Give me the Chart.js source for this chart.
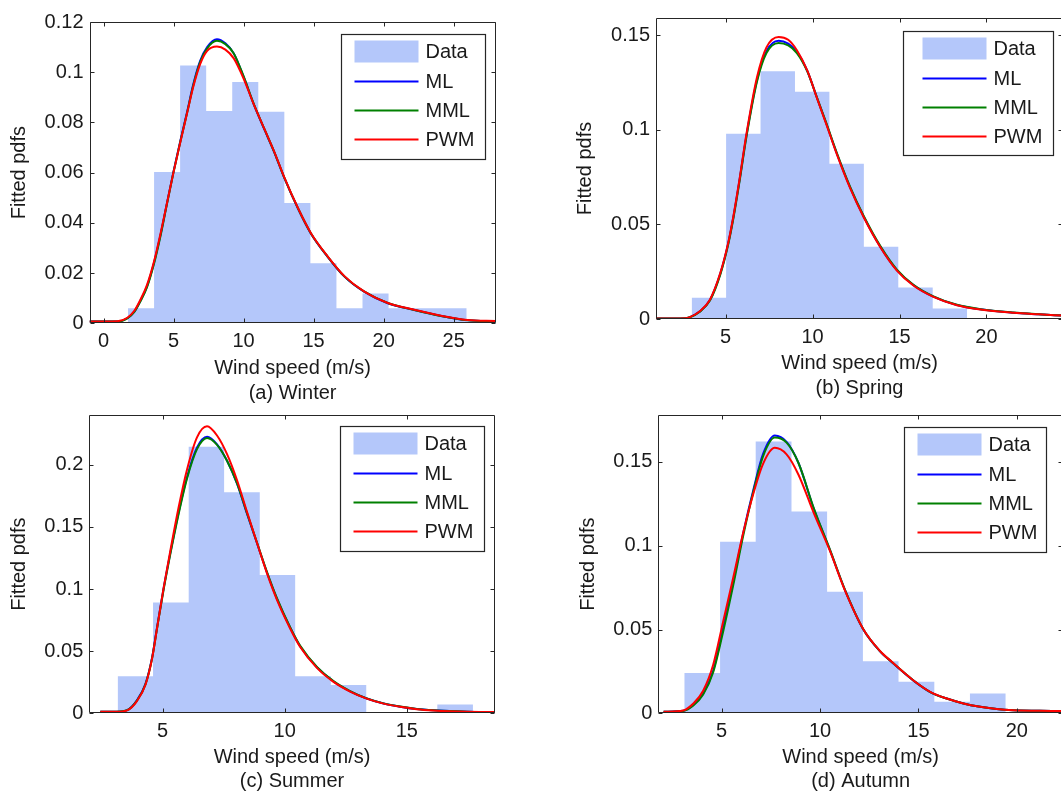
<!DOCTYPE html>
<html>
<head>
<meta charset="utf-8">
<title>Fitted pdfs of wind speed by season</title>
<script src="https://cdn.jsdelivr.net/npm/chart.js@4.4.1/dist/chart.umd.min.js"></script>
<style>
  html, body { margin: 0; padding: 0; background: #fff; overflow: hidden; }
  body { width: 1061px; height: 794px; position: relative; }
  canvas { position: absolute; }
</style>
</head>
<body>
<canvas id="winter" width="530" height="410" style="left:0px;top:0px"></canvas>
<canvas id="spring" width="540" height="410" style="left:530px;top:0px"></canvas>
<canvas id="summer" width="530" height="400" style="left:0px;top:397px"></canvas>
<canvas id="autumn" width="540" height="400" style="left:530px;top:397px"></canvas>
<script>
var seriesNames = ['Data', 'ML', 'MML', 'PWM'];
var xTitle = 'Wind speed (m/s)';
var yTitle = 'Fitted pdfs';

// (a) Winter
var winterEdges = [1.75, 3.61, 5.47, 7.33, 9.19, 11.05, 12.91, 14.77, 16.63, 18.49, 20.35, 22.21, 24.07, 25.93];
var winterHeights = [0.006, 0.0603, 0.1027, 0.0846, 0.0961, 0.0843, 0.0479, 0.0239, 0.006, 0.0119, 0.006, 0.006, 0.006];
var winterX = [-1, 0, 1, 1.7, 2.2, 2.6, 3.1, 3.6, 4.1, 4.5, 5.0, 5.5, 6.0, 6.4, 6.9, 7.4, 8.1, 8.7, 9.3, 10.0, 10.7, 11.5, 12.2, 12.9, 13.9, 14.8, 16.0, 17.2, 18.6, 20.3, 22.2, 24.1, 26.0, 28];
var winterML = [0.0007, 0.0007, 0.0007, 0.002, 0.0046, 0.0086, 0.0146, 0.024, 0.036, 0.047, 0.0605, 0.073, 0.085, 0.095, 0.1045, 0.110, 0.1131, 0.1115, 0.1075, 0.0982, 0.0876, 0.077, 0.068, 0.058, 0.0455, 0.0358, 0.0265, 0.0186, 0.0126, 0.008, 0.0053, 0.0029, 0.0012, 0.0008];
var winterMML = [0.0007, 0.0007, 0.0007, 0.002, 0.0045, 0.0084, 0.0143, 0.0236, 0.0356, 0.0467, 0.0602, 0.0727, 0.0846, 0.0945, 0.104, 0.1095, 0.1125, 0.1112, 0.1075, 0.0984, 0.0878, 0.0772, 0.0681, 0.0581, 0.0456, 0.0359, 0.0266, 0.0187, 0.0127, 0.0081, 0.0053, 0.0029, 0.0012, 0.0008];
var winterPWM = [0.0007, 0.0007, 0.0008, 0.0022, 0.005, 0.009, 0.0152, 0.0245, 0.0365, 0.047, 0.0602, 0.0725, 0.0845, 0.094, 0.1032, 0.1085, 0.1102, 0.109, 0.1055, 0.0975, 0.0876, 0.0772, 0.0682, 0.0582, 0.0457, 0.036, 0.0267, 0.0188, 0.0127, 0.0081, 0.0054, 0.003, 0.0013, 0.0009];

// (b) Spring
var springEdges = [3.05, 5.03, 7.01, 8.99, 10.97, 12.95, 14.93, 16.91, 18.89];
var springHeights = [0.0112, 0.0978, 0.1309, 0.1201, 0.082, 0.0381, 0.0167, 0.0056];
var springX = [1, 2, 2.7, 2.95, 3.5, 4.1, 4.7, 5.15, 5.45, 5.8, 6.2, 6.8, 7.35, 8.05, 8.6, 9.1, 9.7, 10.25, 10.8, 11.4, 12.15, 12.95, 13.9, 14.85, 15.8, 16.95, 18.3, 19.65, 21.55, 23, 24.4];
var springML = [0.0003, 0.0003, 0.0004, 0.001, 0.0039, 0.01, 0.0241, 0.0399, 0.0539, 0.0732, 0.097, 0.126, 0.1415, 0.147, 0.1455, 0.1412, 0.131, 0.117, 0.103, 0.0873, 0.0697, 0.0539, 0.0381, 0.0258, 0.0179, 0.0118, 0.0074, 0.0051, 0.0033, 0.0025, 0.0018];
var springMML = [0.0003, 0.0003, 0.0004, 0.0009, 0.0037, 0.0097, 0.0236, 0.0393, 0.0532, 0.0725, 0.0962, 0.1252, 0.1405, 0.1458, 0.1445, 0.1405, 0.1308, 0.1171, 0.1033, 0.0877, 0.0701, 0.0543, 0.0385, 0.0261, 0.0181, 0.012, 0.0075, 0.0052, 0.0034, 0.0025, 0.0018];
var springPWM = [0.0003, 0.0003, 0.0004, 0.001, 0.004, 0.0102, 0.0244, 0.0402, 0.0543, 0.0737, 0.0978, 0.1275, 0.1435, 0.149, 0.1475, 0.142, 0.1312, 0.1168, 0.1027, 0.087, 0.0694, 0.0536, 0.0379, 0.0256, 0.0177, 0.0117, 0.0073, 0.005, 0.0033, 0.0025, 0.0018];

// (c) Summer
var summerEdges = [3.16, 4.61, 6.07, 7.52, 8.98, 10.43, 11.89, 13.34, 14.80, 16.25, 17.71];
var summerHeights = [0.0298, 0.0892, 0.2145, 0.1778, 0.1113, 0.0298, 0.0227, 0, 0, 0.0071];
var summerX = [2.45, 3.1, 3.55, 3.95, 4.3, 4.57, 4.77, 5.04, 5.32, 5.65, 6.0, 6.41, 6.82, 7.23, 7.64, 8.05, 8.45, 8.86, 9.27, 9.68, 10.23, 10.63, 11.32, 12.0, 12.68, 13.36, 14.05, 14.73, 15.41, 16.09, 17.46, 18.6];
var summerML = [0.0013, 0.0013, 0.0026, 0.0105, 0.0238, 0.0448, 0.0686, 0.1002, 0.1293, 0.161, 0.19, 0.2138, 0.2225, 0.2164, 0.2032, 0.1847, 0.161, 0.1372, 0.1135, 0.0923, 0.0686, 0.054, 0.037, 0.0256, 0.0177, 0.0119, 0.0079, 0.0053, 0.0034, 0.0024, 0.0013, 0.0011];
var summerMML = [0.0013, 0.0013, 0.0025, 0.0102, 0.0233, 0.0441, 0.0678, 0.0992, 0.1283, 0.1598, 0.1888, 0.2125, 0.2215, 0.216, 0.2032, 0.185, 0.1615, 0.1378, 0.1141, 0.0929, 0.0691, 0.0545, 0.0374, 0.0259, 0.0179, 0.012, 0.008, 0.0054, 0.0035, 0.0024, 0.0013, 0.0011];
var summerPWM = [0.0013, 0.0013, 0.0024, 0.0098, 0.023, 0.044, 0.068, 0.1005, 0.131, 0.165, 0.196, 0.222, 0.2309, 0.2235, 0.2085, 0.1875, 0.1625, 0.1375, 0.113, 0.0915, 0.068, 0.0535, 0.0365, 0.0253, 0.0175, 0.0118, 0.0078, 0.0052, 0.0033, 0.0023, 0.0013, 0.0011];

// (d) Autumn
var autumnEdges = [3.1, 4.92, 6.73, 8.55, 10.36, 12.18, 13.99, 15.81, 17.62, 19.44];
var autumnHeights = [0.0241, 0.1024, 0.1622, 0.1204, 0.0725, 0.031, 0.0188, 0.0069, 0.0118];
var autumnX = [2.05, 3.05, 3.56, 4.06, 4.57, 5.08, 5.59, 6.1, 6.61, 7.11, 7.7, 8.3, 8.9, 9.7, 10.5, 11.27, 12.2, 13.05, 13.65, 14.75, 15.6, 16.44, 17.29, 18.14, 18.98, 19.83, 21.78, 22.35];
var autumnML = [0.0009, 0.0015, 0.0049, 0.0118, 0.0255, 0.051, 0.0784, 0.1078, 0.1333, 0.1549, 0.1658, 0.162, 0.1495, 0.1215, 0.0975, 0.0735, 0.05, 0.037, 0.0305, 0.0195, 0.0127, 0.0088, 0.0059, 0.0039, 0.0025, 0.0018, 0.0014, 0.0013];
var autumnMML = [0.0009, 0.0014, 0.0046, 0.0112, 0.0245, 0.049, 0.0765, 0.1062, 0.1322, 0.1535, 0.1645, 0.1615, 0.1495, 0.1218, 0.0978, 0.0737, 0.0502, 0.0371, 0.0306, 0.0196, 0.0127, 0.0088, 0.0059, 0.0039, 0.0025, 0.0018, 0.0014, 0.0013];
var autumnPWM = [0.0009, 0.0017, 0.0058, 0.0135, 0.029, 0.055, 0.081, 0.108, 0.131, 0.149, 0.1584, 0.1545, 0.1425, 0.119, 0.097, 0.0732, 0.0502, 0.0372, 0.0307, 0.0196, 0.0128, 0.0088, 0.0059, 0.0039, 0.0025, 0.0018, 0.0014, 0.0013];

var barColor = 'rgb(180, 199, 250)';
var lineColors = ['rgb(0, 0, 255)', 'rgb(0, 128, 0)', 'rgb(255, 0, 0)'];
var inkColor = '#1a1a1a';

Chart.defaults.font.family = 'Arial, "Liberation Sans", sans-serif';
Chart.defaults.font.size = 20;
Chart.defaults.color = inkColor;

function fmt(v) {
    return String(Number(v.toFixed(6)));
}

// box + inward ticks on all four sides, matlab style
var framePlugin = {
    id: 'frame',
    afterDatasetsDraw: function(chart) {
        var a = chart.chartArea, ctx = chart.ctx;
        var xs = chart.scales.x, ys = chart.scales.y;
        var l = Math.round(a.left) + 0.5, r = Math.round(a.right) - 0.5;
        var t = Math.round(a.top) + 0.5, b = Math.round(a.bottom) - 0.5;
        ctx.save();
        ctx.strokeStyle = '#262626';
        ctx.lineWidth = 1;
        ctx.beginPath();
        ctx.rect(l, t, r - l, b - t);
        xs.ticks.forEach(function(tk) {
            var px = Math.round(xs.getPixelForValue(tk.value)) + 0.5;
            ctx.moveTo(px, b); ctx.lineTo(px, b - 4);
            ctx.moveTo(px, t); ctx.lineTo(px, t + 4);
        });
        ys.ticks.forEach(function(tk) {
            var py = Math.round(ys.getPixelForValue(tk.value)) + 0.5;
            ctx.moveTo(l, py); ctx.lineTo(l + 4, py);
            ctx.moveTo(r, py); ctx.lineTo(r - 4, py);
        });
        ctx.stroke();
        ctx.restore();
    }
};

// legend box inside the plot, top right
var boxLegend = {
    id: 'boxLegend',
    afterDraw: function(chart, args, opts) {
        var a = chart.chartArea, ctx = chart.ctx;
        var bx = Math.round(a.right - opts.right - opts.width) + 0.5;
        var by = Math.round(a.top + opts.top) + 0.5;
        ctx.save();
        ctx.fillStyle = '#fff';
        ctx.fillRect(bx, by, opts.width, opts.height);
        ctx.strokeStyle = '#262626';
        ctx.lineWidth = 1.2;
        ctx.strokeRect(bx, by, opts.width, opts.height);
        var rows = [17, 47, 76, 105];
        var x0 = bx + opts.inset, x1 = x0 + 64;
        ctx.font = '20px Arial, "Liberation Sans", sans-serif';
        ctx.textBaseline = 'middle';
        ctx.textAlign = 'left';
        chart.data.datasets.forEach(function(ds, i) {
            var cy = by + rows[i];
            if (i === 0) {
                ctx.fillStyle = ds.backgroundColor;
                ctx.fillRect(x0, cy - 11, x1 - x0, 22);
            } else {
                ctx.strokeStyle = ds.borderColor;
                ctx.lineWidth = 2;
                ctx.beginPath();
                ctx.moveTo(x0, cy);
                ctx.lineTo(x1, cy);
                ctx.stroke();
            }
            ctx.fillStyle = inkColor;
            ctx.fillText(ds.label, x1 + 7, cy + 1);
        });
        ctx.restore();
    }
};

function makePanel(id, p) {
    var hist = p.heights.map(function(h, i) { return {x: p.edges[i], y: h}; });
    hist.push({x: p.edges[p.edges.length - 1], y: 0});
    var curves = [p.ml, p.mml, p.pwm].map(function(ys, k) {
        return {
            label: seriesNames[k + 1],
            data: ys.map(function(y, i) { return {x: p.x[i], y: y}; }),
            borderColor: lineColors[k],
            borderWidth: 2,
            pointRadius: 0,
            fill: false,
            cubicInterpolationMode: 'monotone',
            order: 3 - k
        };
    });
    var datasets = [{
        label: seriesNames[0],
        data: hist,
        stepped: 'before',
        fill: 'origin',
        backgroundColor: barColor,
        borderColor: 'rgba(0,0,0,0)',
        borderWidth: 0,
        pointRadius: 0,
        order: 4
    }].concat(curves);

    var titleFont = {size: 20, lineHeight: 1.22};
    new Chart(document.getElementById(id), {
        type: 'line',
        data: {datasets: datasets},
        plugins: [framePlugin, boxLegend],
        options: {
            responsive: false,
            animation: false,
            layout: {padding: {left: 0, top: p.pad[0], right: p.pad[1], bottom: p.pad[2]}},
            plugins: {
                legend: {display: false},
                tooltip: {enabled: false},
                boxLegend: p.legend
            },
            scales: {
                x: {
                    type: 'linear',
                    min: p.xMin,
                    max: p.xMax,
                    grid: {display: false, drawTicks: false},
                    border: {display: false},
                    ticks: {stepSize: 5, includeBounds: false, padding: 6, maxRotation: 0, autoSkip: false, callback: fmt},
                    title: {display: true, text: [xTitle, p.caption], font: titleFont, padding: 0},
                    afterFit: function(s) { s.height = p.xH; }
                },
                y: {
                    min: 0,
                    max: p.yMax,
                    grid: {display: false, drawTicks: false},
                    border: {display: false},
                    ticks: {stepSize: p.yStep, includeBounds: false, padding: 6, autoSkip: false, callback: fmt},
                    title: {display: true, text: yTitle, font: titleFont, padding: {top: p.yTitlePad, bottom: 0}},
                    afterFit: function(s) { s.width = p.yW; }
                }
            }
        }
    });
}

makePanel('winter', {
    edges: winterEdges, heights: winterHeights, x: winterX, ml: winterML, mml: winterMML, pwm: winterPWM,
    xMin: -1, xMax: 28, yMax: 0.12, yStep: 0.02, caption: '(a) Winter',
    yW: 89.5, xH: 82, pad: [22, 34.3, 4.7], yTitlePad: 7,
    legend: {right: 10.7, top: 12, width: 144, height: 125, inset: 13}
});
makePanel('spring', {
    edges: springEdges, heights: springHeights, x: springX, ml: springML, mml: springMML, pwm: springPWM,
    xMin: 1, xMax: 24.4, yMax: 0.159, yStep: 0.05, caption: '(b) Spring',
    yW: 126, xH: 81.2, pad: [17.3, 7, 9.8], yTitlePad: 43.3,
    legend: {right: 10, top: 13.4, width: 150, height: 124, inset: 19}
});
makePanel('summer', {
    edges: summerEdges, heights: summerHeights, x: summerX, ml: summerML, mml: summerMML, pwm: summerPWM,
    xMin: 2, xMax: 18.6, yMax: 0.24, yStep: 0.05, caption: '(c) Summer',
    yW: 89.3, xH: 80.6, pad: [13.3, 35.3, 3.1], yTitlePad: 7,
    legend: {right: 10.7, top: 11.4, width: 144, height: 125, inset: 13}
});
makePanel('autumn', {
    edges: autumnEdges, heights: autumnHeights, x: autumnX, ml: autumnML, mml: autumnMML, pwm: autumnPWM,
    xMin: 1.78, xMax: 22.35, yMax: 0.178, yStep: 0.05, caption: '(d) Autumn',
    yW: 128.3, xH: 80.6, pad: [13, 7, 3.1], yTitlePad: 46.1,
    legend: {right: 17, top: 11.7, width: 142, height: 125, inset: 13}
});
</script>
</body>
</html>
